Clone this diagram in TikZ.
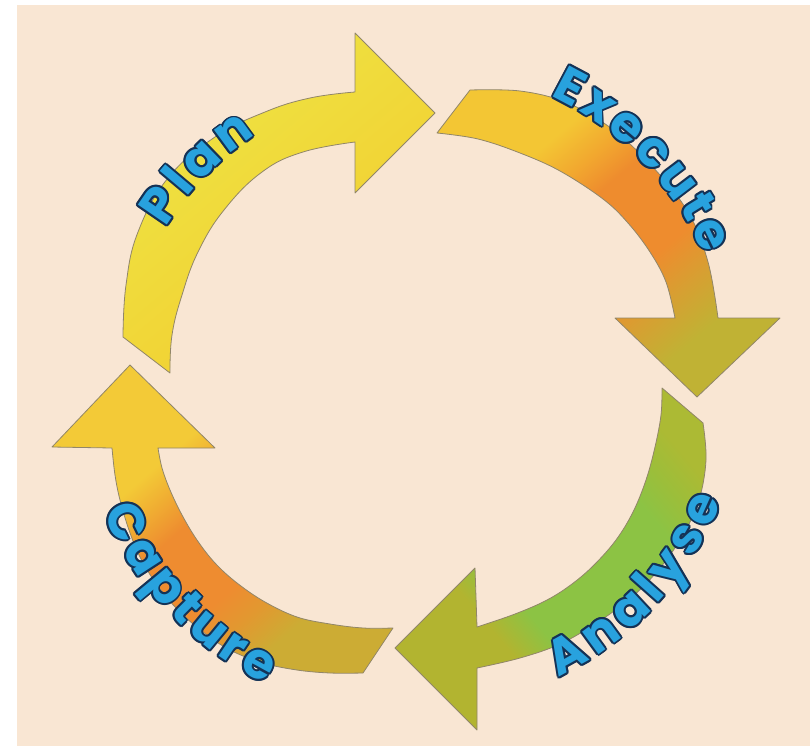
\documentclass[tikz,border=0pt]{standalone}
\usepackage{fontspec}
\newfontfamily\lblfont{Poppins}
\usetikzlibrary{decorations.text}
\definecolor{bgc}{RGB}{249,230,211}
\definecolor{edgec}{RGB}{145,134,105}
\definecolor{lblblue}{RGB}{40,162,222}
\definecolor{lbldark}{RGB}{20,50,86}
\definecolor{planA}{RGB}{238,226,66}
\definecolor{planB}{RGB}{243,206,48}
\definecolor{exA}{RGB}{243,198,52}
\definecolor{exAM}{RGB}{242,168,47}
\definecolor{exM}{RGB}{238,140,46}
\definecolor{exMB}{RGB}{214,160,50}
\definecolor{exB}{RGB}{192,178,52}
\definecolor{anA}{RGB}{172,186,52}
\definecolor{anAM}{RGB}{156,190,58}
\definecolor{anM}{RGB}{140,195,68}
\definecolor{anB}{RGB}{178,180,48}
\definecolor{caA}{RGB}{204,172,52}
\definecolor{caAM}{RGB}{226,152,48}
\definecolor{caM}{RGB}{238,140,48}
\definecolor{caMB}{RGB}{240,172,50}
\definecolor{caB}{RGB}{243,202,55}
\pgfdeclareverticalshading{planS}{100bp}{color(0bp)=(planA); color(30bp)=(planA); color(70bp)=(planB); color(100bp)=(planB)}
\pgfdeclareverticalshading{exS}{100bp}{color(0bp)=(exA); color(32bp)=(exA); color(38bp)=(exAM); color(43bp)=(exM); color(56bp)=(exM); color(63bp)=(exMB); color(70bp)=(exB); color(100bp)=(exB)}
\pgfdeclareverticalshading{anS}{100bp}{color(0bp)=(anA); color(24bp)=(anA); color(29bp)=(anAM); color(34bp)=(anM); color(58bp)=(anM); color(64bp)=(anB); color(100bp)=(anB)}
\pgfdeclareverticalshading{caS}{100bp}{color(0bp)=(caA); color(30bp)=(caA); color(36bp)=(caAM); color(41bp)=(caM); color(53bp)=(caM); color(58bp)=(caMB); color(63bp)=(caB); color(100bp)=(caB)}
\tikzset{
  arrowshape/.style={draw=edgec, line width=0.8pt, line join=round},
}
% #1 text, #2 start angle, #3 end angle, #4 radius
\newcommand\ringlabel[4]{%
  \foreach \a in {0,30,...,330}{%
    \path[shift={(\a:1.9pt)}, decorate, decoration={text along path, text align={fit to path},
      text={|\lblfont\bfseries\fontsize{50}{50}\selectfont\color{lbldark}|#1}}]
      (415,380) ++(#2:#4pt) arc[start angle=#2, end angle=#3, radius=#4pt];
  }
  \path[decorate, decoration={text along path, text align={fit to path},
      text={|\lblfont\bfseries\fontsize{50}{50}\selectfont\color{lblblue}|#1}}]
      (415,380) ++(#2:#4pt) arc[start angle=#2, end angle=#3, radius=#4pt];
}
\begin{document}
\begin{tikzpicture}[x=1pt,y=-1pt]
\useasboundingbox (0,0) rectangle (810,746);
\fill[white] (0,0) rectangle (810,746);
\fill[bgc] (17,5) rectangle (810,746);

% Plan
\shadedraw[arrowshape, shading=planS, shading angle=-140]
  plot[smooth, tension=0.7] coordinates {(123,337) (126,285) (138,232) (168,178) (215,137) (265,112) (310,98) (355,92)}
  -- (355,33) -- (435,113) -- (355,193)
  -- plot[smooth, tension=0.7] coordinates {(355,142) (303,152) (262,172) (224,210) (198,252) (182,295) (172,335) (170,373)}
  -- cycle;

% Execute
\shadedraw[arrowshape, shading=exS, shading angle=-140]
  plot[smooth, tension=0.6] coordinates {(470,90) (520,91) (565,102) (608,126) (650,164) (688,212) (708,262) (718,318)}
  -- (780,318) -- (697,397) -- (615,318)
  -- plot[smooth, tension=0.6] coordinates {(675,318) (666,282) (650,252) (628,223) (603,199) (560,171) (520,153) (478,139) (437,133)}
  -- cycle;

% Analyse
\shadedraw[arrowshape, shading=anS, shading angle=130]
  plot[smooth, tension=0.6] coordinates {(703,423) (706,460) (699,500) (683,535) (660,568) (632,597) (598,622) (560,644) (520,658) (477,668)}
  -- (477,730) -- (395,648) -- (475,568)
  -- plot[smooth, tension=0.6] coordinates {(477,627) (515,614) (547,600) (572,584) (594,565) (616,540) (633,512) (646,480) (655,447) (661,415) (662,388)}
  -- cycle;

% Capture
\shadedraw[arrowshape, shading=caS, shading angle=41]
  plot[smooth, tension=0.6] coordinates {(363,673) (330,673) (297,670) (263,663) (230,650) (203,632) (178,610) (157,585) (140,557) (129,530) (120,500) (115,475) (112,448)}
  -- (52,447) -- (130,365) -- (215,448)
  -- plot[smooth, tension=0.6] coordinates {(158,448) (162,468) (170,490) (182,515) (197,540) (215,563) (237,583) (265,602) (297,617) (330,624) (363,628) (393,628)}
  -- cycle;

\ringlabel{Plan}{148.6}{123.1}{292}
\ringlabel{Execute}{64.5}{23.4}{315}
\ringlabel{Analyse}{-64.2}{-21.5}{330}
\ringlabel{Capture}{202.9}{243.8}{339}
\end{tikzpicture}
\end{document}
